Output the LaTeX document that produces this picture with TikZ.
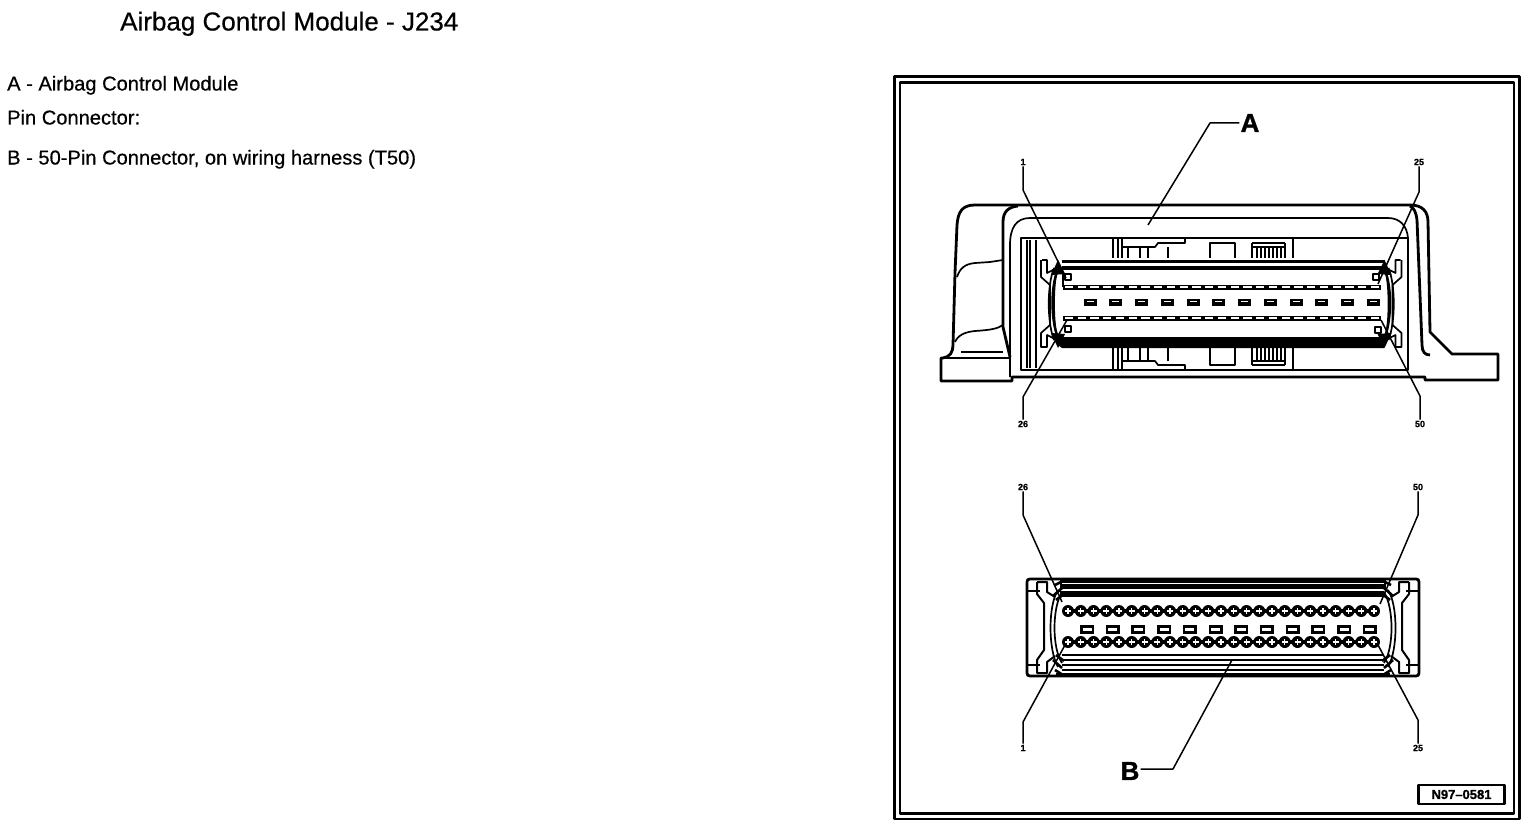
\documentclass[tikz,border=0pt]{standalone}
\usepackage{fontspec}
\setmainfont{Liberation Sans}
\newfontfamily\heavyfont[FakeBold=0.5]{Liberation Sans}
\newfontfamily\blackfont[FakeBold=1.2]{Liberation Sans Bold}
\begin{document}
\begin{tikzpicture}[x=1pt,y=-1pt,line join=round,
  ln/.style={line width=1.7pt,draw=black},
  hv/.style={line width=2.8pt,draw=black},
  thin1/.style={line width=1.2pt,draw=black},
  lead/.style={line width=1.5pt,draw=black},
  txt/.style={inner sep=0pt,anchor=base west,font=\heavyfont\fontsize{20.1}{22}\selectfont},
  pinlab/.style={inner sep=1pt,font=\blackfont\fontsize{9}{9}\selectfont},
  big/.style={inner sep=1pt,font=\blackfont\fontsize{26}{26}\selectfont}]
\useasboundingbox (0,0) rectangle (1536,832);
\fill[white] (0,0) rectangle (1536,832);
% texts
\node[txt,font=\heavyfont\fontsize{26}{28}\selectfont] (title) at (120,30.5) {Airbag Control Module - J234};
\node[txt] (ta) at (7,90.5) {A - Airbag Control Module};
\node[txt] (tp) at (7,124.5) {Pin Connector:};
\node[txt] (tb) at (7,164.5) {B - 50-Pin Connector, on wiring harness (T50)};
% frame
\node[draw,line width=2.8pt,minimum width=625pt,minimum height=742pt,anchor=north west,inner sep=0pt] (frameo) at (893,75.5) {};
\node[draw,line width=2.8pt,minimum width=614pt,minimum height=731pt,anchor=north west,inner sep=0pt] (framei) at (898.5,81) {};
\node[draw,line width=2.2pt,minimum width=86pt,minimum height=19pt,inner sep=0pt,font=\blackfont\fontsize{13}{14}\selectfont] (ref) at (1461.5,794.5) {N97–0581};
% ---- module A housing
\draw[hv] (943,358) .. controls (950,357) and (953,352) .. (953,345) -- (955,273) -- (957,225) .. controls (958,212) and (962,205) .. (975,205) -- (1410,205) .. controls (1422,205) and (1428,211) .. (1428,222) -- (1430,332) -- (1452,354) -- (1498,354) -- (1498,380) -- (1425,380) -- (1425,377) -- (1012,377) -- (1012,381) -- (941,381) -- (941,358) -- (943,358);
\draw[hv] (1003,222) .. controls (1003,212) and (1008,207) .. (1018,206);
\draw[hv] (1003,222) -- (1003,327) -- (1010,357);
\draw[ln] (957,277) .. controls (960,268) and (965,264) .. (975,263) -- (990,262) -- (1003,260);
\draw[ln] (955,342) .. controls (958,335) and (965,332) .. (975,331) .. controls (990,330) and (997,329) .. (1003,325);
\draw[thin1] (961,352) -- (1003,352);
\draw[hv] (941,358) -- (1010,358);
\draw[ln] (1010,377) -- (1010,245) .. controls (1010,228) and (1016,218) .. (1030,218) -- (1388,218) .. controls (1400,218) and (1407,226) .. (1408,238);
\draw[hv] (1410,206) .. controls (1414,208) and (1416,212) .. (1417,220) -- (1422,345) .. controls (1422,352) and (1425,355) .. (1430,355);
% inner box
\draw[hv] (1021,370) -- (1021,238) -- (1408,238) -- (1408,370) -- cycle;
\foreach \vx in {1027,1030,1036}{\draw[ln] (\vx,240) -- (\vx,368);}
\draw[hv] (1012,377) -- (1425,377);
% top and bottom blocks (mirrored)
\foreach \ys/\yb/\ym/\yn in {238/258/243/247, 370/348/365/361}{
  \draw[ln] (1113,\ys) -- (1113,\yb) (1118,\ys) -- (1118,\yb) (1122,\ys) -- (1122,\yb);
  \draw[ln] (1128,\yn) -- (1128,\yb) (1140,\yn) -- (1140,\yb) (1148,\yn) -- (1148,\yb) (1168,\yn) -- (1168,\yb);
  \draw[ln] (1122,\yn) -- (1155,\yn) -- (1158,\ym) -- (1185,\ym) -- (1185,\ys);
  \draw[hv] (1210,\yb) -- (1210,\ym) -- (1235,\ym) -- (1235,\yb);
  \draw[ln] (1252,\ym) -- (1252,\yb) (1285,\ym) -- (1285,\yb) (1293,\ys) -- (1293,\yb);
  \foreach \vx in {1257,1261,1265,1269,1273,1277,1281}{\draw[thin1] (\vx,\yn) -- (\vx,\yb);}
  \draw[ln] (1252,\ym) -- (1285,\ym) (1252,\yn) -- (1285,\yn);
}
% bands of the connector
\draw[line width=3.2pt] (1062,261.5) -- (1385,261.5);
\draw[line width=4pt] (1062,268) -- (1385,268);
\fill[black] (1058,337) -- (1387,337) -- (1384,348) -- (1062,348) .. controls (1058,346) and (1056,342) .. (1058,337) -- cycle;
\foreach \s/\xc in {1/1000,-1/1442.5}{
 \begin{scope}[shift={(\xc,0)},x=\s pt]
 % end bracket and arcs
 \draw[ln] (42,260) -- (47,260) -- (47,273) -- (57,268);
 \draw[ln] (41,260) -- (41,277) -- (50,285) -- (50,325) -- (41,333) -- (41,347) -- (47,347) -- (47,335) -- (57,340);
 \draw[line width=2.4pt] (60,266) .. controls (50,280) and (50,325) .. (60,342);
 \draw[ln] (57,271) .. controls (53,285) and (53,322) .. (57,337);
 \draw[ln] (54,268) .. controls (47,285) and (47,322) .. (54,340);
 \fill[black] (58,260) -- (65,274) -- (51,275) -- cycle;
 \fill[black] (58,348) -- (65,334) -- (51,333) -- cycle;
 \end{scope}}
\draw[ln] (1065,274) rectangle (1071,280);
\draw[ln] (1065,326) rectangle (1071,332);
\draw[ln] (1373,274) rectangle (1379,280);
\draw[ln] (1375,327) rectangle (1381,333);
\draw[line width=1.8pt] (1063,272) -- (1063,287);
% pin rows on A
\foreach \i in {0,...,24}{
  \pgfmathsetmacro{\px}{1069+\i*12.75}
  \fill[black] (\px-6.4,284.5) rectangle (\px+6.4,289.5);
  \fill[white] (\px-4.2,286.4) rectangle (\px+4.2,287.8);
  \fill[black] (\px-6.4,315.5) rectangle (\px+6.4,320.5);
  \fill[white] (\px-4.2,317.4) rectangle (\px+4.2,318.8);
}
\foreach \i in {0,...,11}{
  \pgfmathsetmacro{\px}{1090+\i*25.75}
  \fill[black] (\px-6.5,298.5) rectangle (\px+6.5,305.5);
  \fill[white] (\px-3.5,301.2) rectangle (\px+3.5,302.4);
}
% ---- connector B
\draw[hv] (1030,579) -- (1416,579) .. controls (1418,579) and (1419,580) .. (1419,582) -- (1419,673) .. controls (1419,675) and (1418,676) .. (1416,676) -- (1030,676) .. controls (1028,676) and (1027,675) .. (1027,673) -- (1027,582) .. controls (1027,580) and (1028,579) .. (1030,579) -- cycle;
\fill[black] (1060,580) rectangle (1386,589);
\draw[white,line width=1pt] (1062,583) -- (1384,583);
\fill[black] (1060,590.5) rectangle (1384,596.5);
\foreach \yy in {655,660,665,670}{\draw[line width=1.8pt] (1062,\yy) -- (1384,\yy);}
\draw[line width=2.2pt] (1056,674.5) -- (1390,674.5);
\foreach \s/\xc in {1/0,-1/2446}{
 \begin{scope}[shift={(\xc,0)},x=\s pt]
 \draw[line width=2pt] (1027,591) -- (1040,591) (1027,665) -- (1040,665);
 \draw[line width=2pt] (1037,582) -- (1047,582) -- (1047,592) -- (1055,597) (1037,582) -- (1037,594) -- (1044,603) -- (1044,650) -- (1037,660) -- (1037,673) -- (1047,673) -- (1047,662) -- (1055,656);
 \draw[ln] (1058,590) .. controls (1048,605) and (1048,650) .. (1058,667);
 \draw[ln] (1062,592) .. controls (1052,608) and (1052,648) .. (1062,663);
 \draw[line width=2.6pt] (1055,585) -- (1063,581) (1053,596) -- (1062,588) (1056,600) -- (1064,594);
 \draw[line width=2.6pt] (1055,670) -- (1063,675) (1053,660) -- (1062,668) (1056,655) -- (1064,661);
 \end{scope}}
\foreach \yy in {611,642}{
  \fill[black] (1064,\yy-2) rectangle (1378,\yy+2);
  \foreach \i in {0,...,24}{
    \pgfmathsetmacro{\px}{1068+\i*12.75}
    \fill[black] (\px,\yy) circle (6pt);
    \draw[white,line width=1.1pt] (\px-3,\yy) -- (\px+3,\yy) (\px,\yy-2.6) -- (\px,\yy+2.6);
  }
}
\foreach \i in {0,...,11}{
  \pgfmathsetmacro{\px}{1087+\i*25.7}
  \fill[black] (\px-7,624.5) rectangle (\px+7,633.5);
  \fill[white] (\px-4.5,628.3) rectangle (\px+4.5,630.7);
}
% ---- labels and leaders
\node[big] (la) at (1250,123) {A};
\node[big] (lb) at (1130,771) {B};
\node[pinlab] (p1) at (1023,162) {1};
\node[pinlab] (p25) at (1419,162) {25};
\node[pinlab] (p26) at (1023,424) {26};
\node[pinlab] (p50) at (1420,424) {50};
\node[pinlab] (q26) at (1023,487) {26};
\node[pinlab] (q50) at (1418,487) {50};
\node[pinlab] (q1) at (1023,748) {1};
\node[pinlab] (q25) at (1418,748) {25};
\coordinate (ea) at (1148,225);
\coordinate (eb) at (1232,660);
\coordinate (e1) at (1066,278);
\coordinate (e25) at (1378,284);
\coordinate (e26) at (1067,320);
\coordinate (e50) at (1381,320);
\coordinate (f26) at (1062,602);
\coordinate (f50) at (1380,604);
\coordinate (f1) at (1065,645);
\coordinate (f25) at (1378,645);
\draw[lead] (la.west) -- (1210,123) -- (ea);
\draw[lead] ([yshift=2pt]lb.east) -- (1173,769) -- (eb);
\draw[lead] (p1.south) -- (1023,190) -- (e1);
\draw[lead] (p25.south) -- (1419,192) -- (e25);
\draw[lead] (p26.north) -- (1023,397) -- (e26);
\draw[lead] (p50.north) -- (1420,396) -- (e50);
\draw[lead] (q26.south) -- (1023,515) -- (f26);
\draw[lead] (q50.south) -- (1418,515) -- (f50);
\draw[lead] (q1.north) -- (1023,722) -- (f1);
\draw[lead] (q25.north) -- (1418,720) -- (f25);
\end{tikzpicture}
\end{document}
